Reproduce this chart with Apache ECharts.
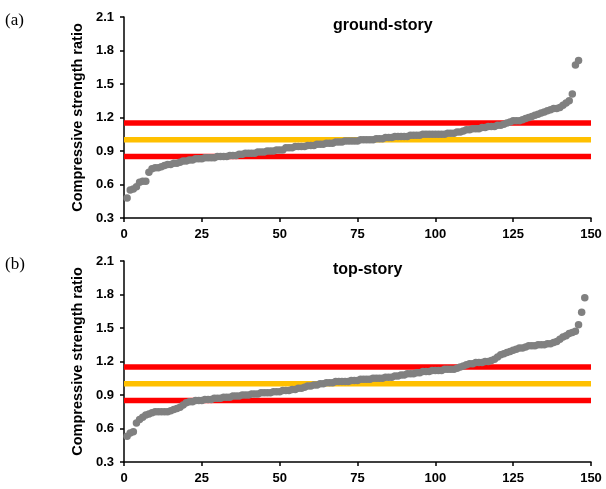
<!DOCTYPE html>
<html>
<head>
<meta charset="utf-8">
<script src="https://cdn.jsdelivr.net/npm/echarts@6/dist/echarts.min.js"></script>
<style>
    html, body { margin: 0; padding: 0; background: #fff; }
    #main { width: 606px; height: 489px; }
</style>
</head>
<body>
<div id="main"></div>
<script>
// sorted compressive strength ratios, one point per specimen (x = 1..n)
var groundRatio = [
    0.48, 0.55, 0.56, 0.58, 0.62, 0.63, 0.63, 0.71, 0.74, 0.75,
    0.75, 0.76, 0.77, 0.78, 0.78, 0.79, 0.79, 0.80, 0.81, 0.81,
    0.82, 0.82, 0.83, 0.83, 0.83, 0.84, 0.84, 0.84, 0.84, 0.85,
    0.85, 0.85, 0.85, 0.86, 0.86, 0.86, 0.87, 0.87, 0.88, 0.88,
    0.88, 0.88, 0.89, 0.89, 0.89, 0.90, 0.90, 0.90, 0.91, 0.91,
    0.91, 0.93, 0.93, 0.93, 0.94, 0.94, 0.94, 0.94, 0.95, 0.95,
    0.95, 0.96, 0.96, 0.96, 0.97, 0.97, 0.97, 0.98, 0.98, 0.98,
    0.99, 0.99, 0.99, 0.99, 0.99, 1.00, 1.00, 1.00, 1.00, 1.00,
    1.01, 1.01, 1.01, 1.02, 1.02, 1.02, 1.03, 1.03, 1.03, 1.03,
    1.03, 1.04, 1.04, 1.04, 1.04, 1.05, 1.05, 1.05, 1.05, 1.05,
    1.05, 1.05, 1.05, 1.06, 1.06, 1.06, 1.07, 1.07, 1.08, 1.09,
    1.09, 1.10, 1.10, 1.10, 1.11, 1.11, 1.12, 1.12, 1.12, 1.13,
    1.13, 1.14, 1.15, 1.16, 1.17, 1.17, 1.17, 1.18, 1.19, 1.20,
    1.21, 1.22, 1.23, 1.24, 1.25, 1.26, 1.27, 1.28, 1.28, 1.29,
    1.31, 1.33, 1.35, 1.41, 1.67, 1.71
];
var topRatio = [
    0.53, 0.56, 0.57, 0.65, 0.68, 0.70, 0.72, 0.73, 0.74, 0.75,
    0.75, 0.75, 0.75, 0.75, 0.76, 0.77, 0.78, 0.79, 0.81, 0.83,
    0.84, 0.84, 0.85, 0.85, 0.85, 0.86, 0.86, 0.86, 0.87, 0.87,
    0.87, 0.88, 0.88, 0.88, 0.89, 0.89, 0.89, 0.90, 0.90, 0.90,
    0.91, 0.91, 0.91, 0.92, 0.92, 0.92, 0.92, 0.93, 0.93, 0.93,
    0.94, 0.94, 0.94, 0.95, 0.95, 0.96, 0.96, 0.97, 0.98, 0.98,
    0.99, 0.99, 1.00, 1.00, 1.01, 1.01, 1.01, 1.02, 1.02, 1.02,
    1.02, 1.02, 1.03, 1.03, 1.03, 1.04, 1.04, 1.04, 1.04, 1.05,
    1.05, 1.05, 1.05, 1.06, 1.06, 1.06, 1.07, 1.07, 1.08, 1.08,
    1.09, 1.09, 1.09, 1.10, 1.10, 1.11, 1.11, 1.11, 1.12, 1.12,
    1.12, 1.12, 1.13, 1.13, 1.13, 1.13, 1.14, 1.15, 1.16, 1.17,
    1.18, 1.18, 1.19, 1.19, 1.19, 1.20, 1.20, 1.21, 1.22, 1.24,
    1.26, 1.27, 1.28, 1.29, 1.30, 1.31, 1.32, 1.32, 1.33, 1.34,
    1.34, 1.34, 1.35, 1.35, 1.35, 1.36, 1.36, 1.37, 1.38, 1.40,
    1.42, 1.43, 1.45, 1.46, 1.47, 1.53, 1.64, 1.77
];
// reference lines
var limitLines = [0.85, 1.15];
var targetLine = [1.0];
var panelTitles = ['ground-story', 'top-story'];
var panelTags = ['(a)', '(b)'];
var xRange = [0, 150];
var yRange = [0.3, 2.1];

var chart = echarts.init(document.getElementById('main'));

function toPoints(arr) {
    var out = [];
    for (var i = 0; i < arr.length; i++) {
        out.push([i + 1, arr[i]]);
    }
    return out;
}

function hLine(idx, v, color) {
    return {
        type: 'line',
        xAxisIndex: idx,
        yAxisIndex: idx,
        data: [[xRange[0], v], [xRange[1], v]],
        symbol: 'none',
        silent: true,
        z: 1,
        lineStyle: { color: color, width: 5.5 }
    };
}

var gridTops = [17, 261];
var grids = [], xAxes = [], yAxes = [], series = [], titles = [];
var sets = [groundRatio, topRatio];

for (var k = 0; k < 2; k++) {
    grids.push({ left: 124, width: 467, top: gridTops[k], height: 201 });
    xAxes.push({
        gridIndex: k,
        type: 'value',
        min: xRange[0],
        max: xRange[1],
        interval: 25,
        splitLine: { show: false },
        axisLine: { lineStyle: { color: '#000', width: 1.5 } },
        axisTick: { length: 4, lineStyle: { color: '#000', width: 1.5 } },
        axisLabel: {
            margin: 10,
            color: '#000',
            fontFamily: 'Liberation Sans',
            fontWeight: 'bold',
            fontSize: 13
        }
    });
    yAxes.push({
        gridIndex: k,
        type: 'value',
        min: yRange[0],
        max: yRange[1],
        interval: 0.3,
        name: 'Compressive strength ratio',
        nameLocation: 'middle',
        nameGap: 38,
        nameTextStyle: {
            color: '#000',
            fontFamily: 'Liberation Sans',
            fontWeight: 'bold',
            fontSize: 14.5
        },
        splitLine: { show: false },
        axisLine: { show: true, lineStyle: { color: '#000', width: 1.5 } },
        axisTick: { show: true, length: 4, lineStyle: { color: '#000', width: 1.5 } },
        axisLabel: {
            margin: 10,
            color: '#000',
            fontFamily: 'Liberation Sans',
            fontWeight: 'bold',
            fontSize: 13,
            formatter: function (v) { return v.toFixed(1); }
        }
    });
    series.push(hLine(k, limitLines[0], '#ff0000'));
    series.push(hLine(k, limitLines[1], '#ff0000'));
    series.push(hLine(k, targetLine[0], '#ffc000'));
    series.push({
        type: 'scatter',
        xAxisIndex: k,
        yAxisIndex: k,
        data: toPoints(sets[k]),
        symbolSize: 7.5,
        z: 3,
        itemStyle: { color: '#808080', opacity: 1 }
    });
    titles.push({
        text: panelTitles[k],
        left: 328,
        top: gridTops[k] - 4,
        textStyle: {
            color: '#000',
            fontFamily: 'Liberation Sans',
            fontWeight: 'bold',
            fontSize: 16
        }
    });
    titles.push({
        text: panelTags[k],
        left: 0,
        top: gridTops[k] - 10,
        textStyle: {
            color: '#000',
            fontFamily: 'Liberation Serif',
            fontWeight: 'normal',
            fontSize: 17
        }
    });
}

var option = {
    backgroundColor: '#fff',
    animation: false,
    title: titles,
    grid: grids,
    xAxis: xAxes,
    yAxis: yAxes,
    series: series
};
chart.setOption(option);
</script>
</body>
</html>
